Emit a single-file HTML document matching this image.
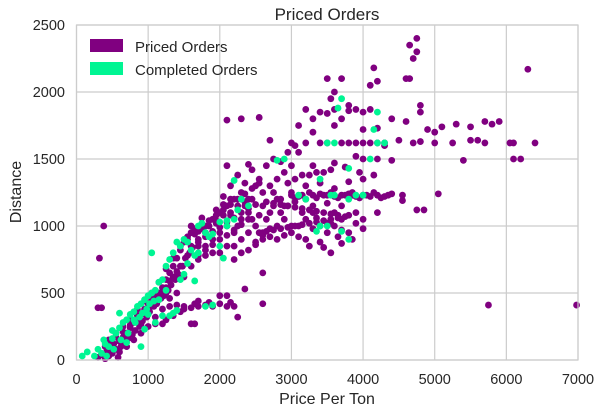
<!DOCTYPE html>
<html><head><meta charset="utf-8"><style>
body{margin:0;background:#fff}
svg text{font-family:"Liberation Sans",sans-serif;fill:#262626}
</style></head><body>
<svg id="chart" width="603" height="415" xmlns="http://www.w3.org/2000/svg">
<rect width="603" height="415" fill="#fff"/>
<g id="grid"></g>
<g id="pts"></g>
<rect x="76.5" y="25" width="501.5" height="335" fill="none" stroke="#cccccc" stroke-width="1.2"/>
<g id="ticks"></g>
<text x="327" y="20" font-size="17" text-anchor="middle">Priced Orders</text>
<text x="327" y="404" font-size="16" text-anchor="middle">Price Per Ton</text>
<text transform="translate(21,192) rotate(-90)" font-size="16" text-anchor="middle">Distance</text>
<g>
<g><rect x="90" y="39" width="33" height="13" fill="#800080"/><text x="135" y="52" font-size="15">Priced Orders</text></g>
<g><rect x="90" y="62" width="33" height="13" fill="#00f593"/><text x="135" y="75" font-size="15">Completed Orders</text></g>
</g>
</svg>
<script>
const xTicks=[0,1000,2000,3000,4000,5000,6000,7000];
const yTicks=[0,500,1000,1500,2000,2500];
const pricedX=[300,350,400,420,450,480,500,520,550,580,600,620,650,680,700,720,750,780,800,820,850,880,900,920,950,980,1000,1020,1050,1080,1100,1120,1150,1180,1200,1220,1250,1280,1300,1320,1350,1380,1400,1420,1450,1480,1500,1520,1550,1580,1600,1620,1650,1700,1750,1800,400,450,550,650,750,850,950,1050,1150,1250,1350,1450,700,800,900,1000,1100,1200,1300,1400,1500,1600,1700,1800,1900,600,900,1100,1250,1350,1500,
1300,1400,1500,1600,1650,1700,1800,1900,2000,2100,2150,2200,1450,1600,1650,1200,2000,2100,2250,1700,1850,
1800,1900,2000,2100,2200,2300,2400,2500,2600,2700,2800,2900,3000,1900,2000,2100,2200,2300,2400,2500,2600,2700,2800,2900,3000,2200,2300,2400,2500,2600,2700,2800,2900,3000,2000,2100,2200,2300,2400,2500,2600,1900,1800,1700,1600,2050,2150,2250,2350,2450,2550,2650,2750,2850,2950,3050,2100,2400,2550,2300,2100,2700,2600,2350,2600,1700,1950,2150,2350,2550,2750,2250,2450,2650,2850,3050,
2600,2700,2800,2900,3000,3100,3200,3300,3400,3500,3600,3700,3800,3900,4000,3100,3200,3300,3400,3500,3600,3700,3800,4000,3250,3450,3700,3850,3900,4200,3550,3650,
3000,3100,3200,3300,3400,3500,3600,3700,3800,3900,4000,4100,4200,4300,4400,4550,4550,4750,4850,5050,3200,3400,3600,3800,4000,3300,3500,3700,
3000,3200,3400,3500,3700,3800,3900,4000,4100,4200,4300,4500,4700,4800,5000,5250,5500,5600,5700,6050,6100,6400,5400,6100,6200,4000,4200,4400,3300,3600,3900,3100,
3200,3400,3600,3800,3900,4000,4100,3500,3300,3700,4400,4600,3600,4000,4200,3800,4100,4200,4150,4600,4650,4700,4750,4750,4650,3700,3500,4800,4800,4900,5000,5100,5300,5500,5700,5900,5800,6300,5750,6980,3550,3600,4300,3300,3100,
380,320,350,300,
1550,1650,1750,1850,1950,2050,2150,2250,2350,2450,1600,1700,1800,1900,2000,2100,2200,2300,2400,2500,1650,1750,1850,1950,2050,2150,2250,2350,2450,2550,1700,1800,1900,2000,2100,2200,2300,2400,
2550,2650,2750,2850,2950,3050,3150,3250,3350,3450,3550,3650,2650,2750,2850,2950,3050,3150,3250,3350,3450,3550,3650,3750,3850,3950,
3050,3150,3250,3350,3450,3550,3650,3750,3850,3950,4050,4150,4250,4350,2750,2850,2950,3150,3350,3550,
1050,1150,1250,1350,1450,1550,1000,1100,1200,1300,1400,850,950,1050,1150,1250,750,650,550,450,1750,1950,2050,2150,
3150,3350,3550,3750,3950,4150,2950,3050,3250,3450];
const pricedY=[20,40,10,60,30,90,50,120,80,20,140,100,170,130,200,160,240,190,280,220,300,250,340,290,380,320,420,360,450,400,480,420,500,460,540,480,600,520,650,560,700,600,760,640,820,700,880,760,920,800,950,840,980,900,1000,950,100,150,200,250,300,380,440,500,580,680,760,850,100,150,200,250,320,380,460,500,620,700,780,850,900,60,260,270,300,330,380,
400,410,400,390,420,400,410,400,420,400,430,400,360,270,270,270,480,480,320,440,430,
1000,1050,1100,1000,950,1050,1100,1000,1150,1100,1200,1150,1250,900,950,1150,1200,1250,1200,1300,1250,1300,1350,1400,1450,850,900,950,880,950,980,1000,1050,1000,800,850,750,800,820,860,900,800,780,850,1000,1220,1300,1380,1320,1420,1350,1450,1500,1480,1550,1600,1450,1460,1810,1800,1790,1640,650,530,420,960,1020,1080,1150,1080,1150,1000,1050,1050,1100,1180,
930,920,900,930,950,920,900,980,1000,1020,1000,1050,1080,1100,1050,1000,1050,1100,880,950,1100,970,950,980,850,840,870,900,1020,1100,800,920,
1230,1220,1200,1230,1240,1230,1220,1230,1240,1220,1230,1220,1230,1220,1240,1230,1190,1120,1120,1240,1300,1320,1280,1330,1350,1150,1170,1150,
1620,1620,1620,1620,1620,1620,1620,1620,1620,1620,1620,1640,1620,1630,1620,1620,1640,1640,1620,1620,1620,1620,1490,1500,1500,1500,1500,1490,1450,1470,1520,1550,
1870,1850,1870,1860,1870,1850,1870,1840,1800,1800,1800,1780,1750,1720,1730,1900,2050,2080,2180,2100,2100,2250,2300,2400,2350,2100,2100,1850,1900,1720,1700,1740,1760,1740,1780,1780,1760,2170,410,410,1950,2000,1600,1700,1750,
1000,760,390,390,
900,940,980,1000,1040,1080,1100,1150,1180,1200,850,880,920,960,990,1030,1060,1100,1130,1160,960,1000,1040,1080,1120,1160,1200,1240,1280,1320,750,820,860,900,930,970,1010,1050,
950,960,970,980,990,1000,1010,1020,1030,1040,1050,1060,1180,1170,1160,1150,1140,1130,1120,1110,1100,1090,1080,1070,1230,1210,
1210,1230,1250,1210,1230,1250,1210,1230,1250,1210,1230,1250,1210,1230,1250,1200,1150,1100,1060,1020,
420,480,540,620,700,780,380,440,510,590,660,330,360,400,450,500,260,210,170,120,1060,1120,1160,1200,
1380,1400,1420,1440,1400,1380,1320,1350,1380,1400];
const completedX=[80,150,250,300,350,400,420,450,500,520,550,600,620,650,700,720,750,800,820,850,880,900,920,950,980,1000,1020,1050,1080,1100,1150,1200,1250,1300,1350,1400,1450,1500,1550,1600,1650,1700,1750,1800,1900,2000,2050,2100,2200,2200,2300,2400,1050,900,950,1100,700,500,380,1300,1500,1650,1800,1900,1350,1400,1550,1700,1850,2000,2100,2250,2800,2900,3700,3400,3650,3800,3500,3600,3550,3600,3800,3900,4200,4300,4200,4100,3200,3100,3350,3500,3700,3800,4000,4150,3400,1200,600,800,1150,1250,1450,1000];
const completedY=[30,60,30,80,50,120,30,100,160,80,200,240,150,280,300,200,340,360,280,400,320,420,350,450,380,480,420,500,440,520,580,600,700,750,800,880,850,900,880,820,780,1000,1020,950,940,850,760,1000,1050,1340,1200,1150,800,100,230,280,130,220,150,330,640,590,400,410,350,370,720,800,920,1030,1040,1120,1490,1500,1950,1350,1880,1430,1620,1620,1230,1230,1200,1230,1620,1620,1850,1500,1200,1230,960,1000,960,900,1230,1720,1000,330,350,300,450,520,600,340];

const X0=76.5,X1=578,Y0=360,Y1=25,XMAX=7000,YMAX=2500;
const sx=v=>X0+(X1-X0)*v/XMAX;
const sy=v=>Y0-(Y0-Y1)*v/YMAX;
const NS="http://www.w3.org/2000/svg";
const grid=document.getElementById('grid'),ticks=document.getElementById('ticks'),pts=document.getElementById('pts');
xTicks.forEach(t=>{
 const l=document.createElementNS(NS,'line');
 
 
 l.setAttribute('x1',sx(t));l.setAttribute('x2',sx(t));l.setAttribute('y1',Y1);l.setAttribute('y2',Y0);
 l.setAttribute('stroke','#cccccc');l.setAttribute('stroke-width','1.2');grid.appendChild(l);
 const tx=document.createElementNS(NS,'text');
 
 
 tx.setAttribute('x',sx(t));tx.setAttribute('y',384);tx.setAttribute('font-size','14.5');tx.setAttribute('text-anchor','middle');
 tx.textContent=t;ticks.appendChild(tx);
});
yTicks.forEach(t=>{
 const l=document.createElementNS(NS,'line');
 
 
 l.setAttribute('x1',X0);l.setAttribute('x2',X1);l.setAttribute('y1',sy(t));l.setAttribute('y2',sy(t));
 l.setAttribute('stroke','#cccccc');l.setAttribute('stroke-width','1.2');grid.appendChild(l);
 const tx=document.createElementNS(NS,'text');
 
 
 tx.setAttribute('x',65);tx.setAttribute('y',sy(t)+5);tx.setAttribute('font-size','14.5');tx.setAttribute('text-anchor','end');
 tx.textContent=t;ticks.appendChild(tx);
});
function plot(xs,ys,color,name){
 const n=Math.min(xs.length,ys.length);
 for(let i=0;i<n;i++){
  const c=document.createElementNS(NS,'circle');
  
  
  c.setAttribute('cx',sx(xs[i]));c.setAttribute('cy',sy(ys[i]));c.setAttribute('r','3.4');c.setAttribute('fill',color);
  pts.appendChild(c);
 }
}
plot(pricedX,pricedY,'#800080','priced-order-point');
plot(completedX,completedY,'#00f593','completed-order-point');
</script>
</body></html>
